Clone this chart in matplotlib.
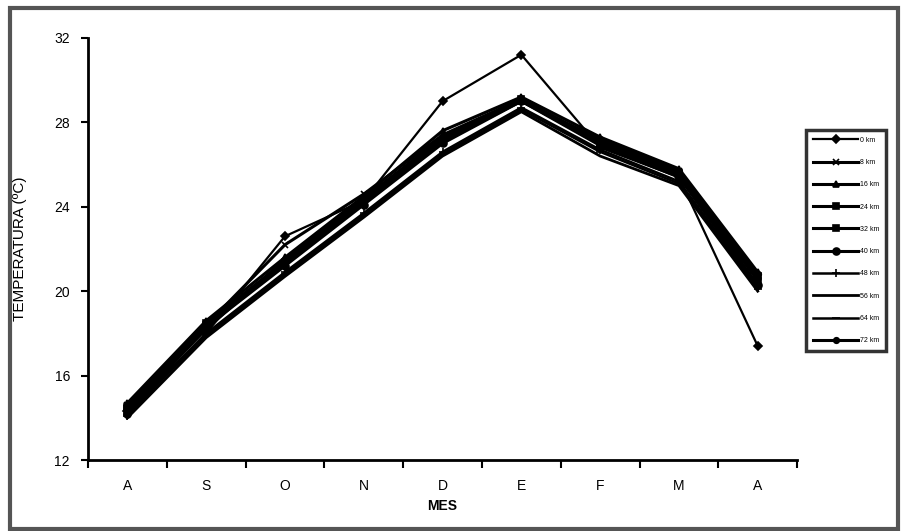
import matplotlib.pyplot as plt
from matplotlib.patches import Rectangle

plt.rcParams['font.family'] = ['Liberation Sans', 'DejaVu Sans']

# Monthly mean temperature (ºC) at each distance from the coast
meses = ['A', 'S', 'O', 'N', 'D', 'E', 'F', 'M', 'A']

km0 = [14.3, 18.0, 22.6, 24.3, 29.0, 31.2, 26.8, 25.4, 17.4]
km8 = [14.6, 18.4, 22.2, 24.6, 27.4, 29.1, 27.0, 25.7, 20.6]
km16 = [14.7, 18.6, 21.6, 24.5, 27.6, 29.2, 27.3, 25.8, 20.9]
km24 = [14.5, 18.5, 21.4, 24.3, 27.2, 29.1, 27.1, 25.6, 20.7]
km32 = [14.4, 18.4, 21.3, 24.2, 27.1, 29.0, 27.0, 25.5, 20.5]
km40 = [14.2, 18.3, 21.2, 24.1, 27.0, 29.0, 26.9, 25.4, 20.3]
km48 = [14.1, 18.0, 20.9, 23.7, 26.6, 28.7, 26.7, 25.2, 20.2]
km56 = [14.0, 17.8, 20.7, 23.5, 26.4, 28.5, 26.4, 25.0, 20.0]
km64 = [14.2, 17.9, 20.8, 23.6, 26.5, 28.6, 26.6, 25.1, 20.1]
km72 = [14.4, 18.2, 21.5, 24.4, 27.3, 29.0, 27.2, 25.7, 20.8]

series = [
    ('0 km', km0, 'D', 4, 1.6),
    ('8 km', km8, 'x', 4, 2.2),
    ('16 km', km16, '^', 5, 2.2),
    ('24 km', km24, 's', 4, 2.2),
    ('32 km', km32, 's', 5, 2.2),
    ('40 km', km40, 'o', 5, 2.2),
    ('48 km', km48, '+', 6, 1.8),
    ('56 km', km56, None, 0, 2.0),
    ('64 km', km64, '_', 6, 1.8),
    ('72 km', km72, 'o', 4, 2.2),
]

fig = plt.figure(figsize=(9.01, 5.31), dpi=100)
ax = fig.add_axes([0.0977, 0.1337, 0.787, 0.795])

x = list(range(len(meses)))
for nombre, vals, mk, ms, lw in series:
    ax.plot(x, vals, color='black', lw=lw, marker=mk, markersize=ms,
            markeredgewidth=1.2, label=nombre)

ax.set_xlim(-0.5, len(meses) - 0.5)
ax.set_ylim(12, 32)
ax.set_yticks([12, 16, 20, 24, 28, 32])
ax.set_xticks([i - 0.5 for i in range(len(meses) + 1)])
ax.set_xticklabels([])
ax.set_xticks(x, minor=True)
ax.set_xticklabels(meses, minor=True)
ax.tick_params(axis='x', which='major', direction='out', length=6, width=1.5)
ax.tick_params(axis='x', which='minor', length=0, pad=14, labelsize=10)
ax.tick_params(axis='y', direction='out', length=5, width=1.5, labelsize=10, pad=8)

for s in ['top', 'right']:
    ax.spines[s].set_visible(False)
for s in ['left', 'bottom']:
    ax.spines[s].set_linewidth(2)

ax.set_xlabel('MES', fontsize=10, fontweight='bold', labelpad=4)
ax.set_ylabel('TEMPERATURA (ºC)', fontsize=11)
ax.yaxis.set_label_coords(-0.086, 0.5)

leg = fig.legend(loc='upper left', bbox_to_anchor=(0.891, 0.762), fontsize=5,
                 frameon=True, fancybox=False, edgecolor='black',
                 handlelength=6.5, labelspacing=2.2, borderpad=1.0,
                 handletextpad=0.2)
leg.get_frame().set_linewidth(2.5)

# grey frame around the whole chart
fig.patches.append(Rectangle((0.011, 0.004), 0.986, 0.981, transform=fig.transFigure,
                             fill=False, edgecolor='#555555', lw=3))

fig.savefig('out.png', dpi=100)
